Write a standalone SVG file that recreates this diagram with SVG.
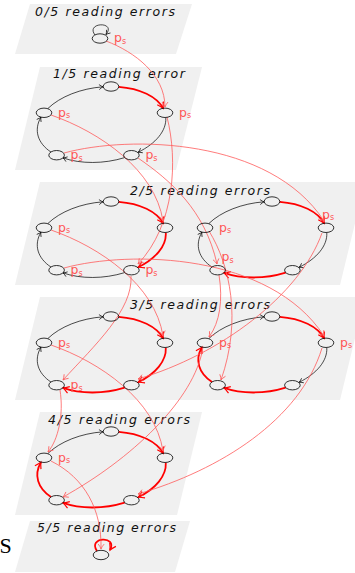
<svg xmlns="http://www.w3.org/2000/svg" width="355" height="573" viewBox="0 0 355 573">
<style>
.plane{fill:#f0f0f0;stroke:none}
.title{font-family:"DejaVu Sans",sans-serif;font-style:italic;font-size:12.5px;fill:#111}
.nd{fill:none;stroke:#000;stroke-width:0.8}
.ps{font-family:"DejaVu Sans",sans-serif;font-size:12.5px;fill:#ff5555}
.e{fill:none;stroke:#000;stroke-width:0.7;marker-end:url(#ab)}
.er{fill:none;stroke:#ff0000;stroke-width:1.8;marker-end:url(#ar)}
.t{fill:none;stroke:#ff5a5a;stroke-width:0.8;marker-end:url(#at)}
</style>
<defs>
<marker id="ab" viewBox="-6 -4 8 8" markerWidth="8" markerHeight="8" refX="0" refY="0" orient="auto" markerUnits="userSpaceOnUse"><path d="M-4,-2.5 Q-1.5,-0.5 0,0 Q-1.5,0.5 -4,2.5" fill="none" stroke="#000" stroke-width="0.7"/></marker>
<marker id="ar" viewBox="-8 -5 10 10" markerWidth="10" markerHeight="10" refX="0" refY="0" orient="auto" markerUnits="userSpaceOnUse"><path d="M-6,-3.5 Q-2,-0.8 0,0 Q-2,0.8 -6,3.5" fill="none" stroke="#ff0000" stroke-width="1.2"/></marker>
<marker id="at" viewBox="-7 -4 9 8" markerWidth="9" markerHeight="8" refX="0" refY="0" orient="auto" markerUnits="userSpaceOnUse"><path d="M-5,-3 Q-2,-0.6 0,0 Q-2,0.6 -5,3" fill="none" stroke="#ff5a5a" stroke-width="0.8"/></marker>
<g id="base-edges">
<path id="eA" d="M48,107.9 C60.2,96.1 81,87.9 103.1,86.3"/>
<path id="eB" d="M118.7,86.3 C140,87.9 156.8,96.1 163.2,107.9"/>
<path id="eC" d="M165.8,117.4 C166.5,130.1 156,143 138.1,151.8"/>
<path id="eD" d="M124.7,157.1 C104,163.5 80.7,163.6 63,157.4"/>
<path id="eE" d="M51,151.6 C37.5,142.6 33.6,129.5 40.9,116.7"/>
</g>
</defs>

<g id="planes">
<polygon class="plane" points="30,4 192,4 176,54 15,54"/>
<polygon class="plane" points="40,67 202,67 176,170 15,170"/>
<polygon class="plane" points="40,182 365,182 340,285 15,285"/>
<polygon class="plane" points="40,297 365,297 340,400 15,400"/>
<polygon class="plane" points="40,412 202,412 177,515 15,515"/>
<polygon class="plane" points="30,521 190,521 175,572 15,572"/>
</g>

<g id="titles">
<text class="title" x="35" y="16" textLength="140" lengthAdjust="spacing">0/5 reading errors</text>
<text class="title" x="53" y="78" textLength="132" lengthAdjust="spacing">1/5 reading error</text>
<text class="title" x="130" y="195" textLength="140" lengthAdjust="spacing">2/5 reading errors</text>
<text class="title" x="130" y="309" textLength="140" lengthAdjust="spacing">3/5 reading errors</text>
<text class="title" x="48" y="424" textLength="142" lengthAdjust="spacing">4/5 reading errors</text>
<text class="title" x="37" y="532" textLength="139" lengthAdjust="spacing">5/5 reading errors</text>
</g>

<text x="-0.5" y="553" font-family="Liberation Serif, serif" font-size="22" fill="#000">S</text>

<g id="connectors">
<!-- self loops -->
<path class="e" d="M95,35 C85,22 117,21 106,34.5"/>
<path class="er" d="M97,551 C87,537 118,535 110,550"/>
<!-- plane 1 -->
<g transform="translate(0,0.5)">
<use href="#eA" class="e"/><use href="#eB" class="er"/><use href="#eC" class="e"/><use href="#eD" class="e"/><use href="#eE" class="e"/>
</g>
<!-- plane 2 left -->
<g transform="translate(0,115.5)">
<use href="#eA" class="e"/><use href="#eB" class="er"/><use href="#eC" class="er"/><use href="#eD" class="e"/><use href="#eE" class="e"/>
</g>
<!-- plane 2 right -->
<g transform="translate(161,115.5)">
<use href="#eA" class="e"/><use href="#eB" class="er"/><use href="#eC" class="e"/><use href="#eD" class="er"/><use href="#eE" class="e"/>
</g>
<!-- plane 3 left -->
<g transform="translate(0,230.5)">
<use href="#eA" class="e"/><use href="#eB" class="er"/><use href="#eC" class="er"/><use href="#eD" class="er"/><use href="#eE" class="e"/>
</g>
<!-- plane 3 right -->
<g transform="translate(161,230.5)">
<use href="#eA" class="e"/><use href="#eB" class="er"/><use href="#eC" class="e"/><use href="#eD" class="er"/><use href="#eE" class="er"/>
</g>
<!-- plane 4 -->
<g transform="translate(0,345.5)">
<use href="#eA" class="e"/><use href="#eB" class="er"/><use href="#eC" class="er"/><use href="#eD" class="er"/><use href="#eE" class="er"/>
</g>
<!-- transitions -->
<path class="t" d="M106,41 C135,52 165,75 165,107"/>
<path class="t" d="M51,115 C100,132 155,170 163,221"/>
<path class="t" d="M167,117 C178,160 175,225 138,264"/>
<path class="t" d="M138,158 C170,180 205,210 217,264"/>
<path class="t" d="M64,153 C130,135 270,138 324,221"/>
<path class="t" d="M51,230 C100,247 155,285 163,336"/>
<path class="t" d="M131,276 C133,310 95,345 63,380"/>
<path class="t" d="M64,268 C130,250 270,253 324,336"/>
<path class="t" d="M209,231 C230,265 242,320 221,380"/>
<path class="t" d="M219,275 C223,300 220,322 209,337"/>
<path class="t" d="M322,233 C300,295 220,355 138,379"/>
<path class="t" d="M51,345 C100,362 155,400 163,451"/>
<path class="t" d="M60,390 C64,415 58,440 48,452"/>
<path class="t" d="M203,347 C195,400 130,460 63,497"/>
<path class="t" d="M322,348 C300,420 220,470 138,494"/>
<path class="t" d="M51,461 C85,478 102,510 101,549"/>
</g>

<g id="nodes">
<g id="p0-n"><ellipse class="nd" cx="100" cy="38.5" rx="7.8" ry="4.7"/><text class="ps" x="114" y="42">p<tspan font-size="8" dy="1.5">s</tspan></text></g>

<g id="p1-n0" transform="translate(44,112.8)"><ellipse class="nd" rx="7.8" ry="4.7"/><text class="ps" x="14" y="4">p<tspan font-size="8" dy="1.5">s</tspan></text></g>
<g id="p1-n1" transform="translate(111,86.5)"><ellipse class="nd" rx="7.8" ry="4.7"/></g>
<g id="p1-n2" transform="translate(165,112.8)"><ellipse class="nd" rx="7.8" ry="4.7"/><text class="ps" x="14" y="4">p<tspan font-size="8" dy="1.5">s</tspan></text></g>
<g id="p1-n3" transform="translate(131.4,155.2)"><ellipse class="nd" rx="7.8" ry="4.7"/><text class="ps" x="14" y="4">p<tspan font-size="8" dy="1.5">s</tspan></text></g>
<g id="p1-n4" transform="translate(56.6,155.2)"><ellipse class="nd" rx="7.8" ry="4.7"/><text class="ps" x="14" y="4">p<tspan font-size="8" dy="1.5">s</tspan></text></g>

<g id="p2a-n0" transform="translate(44,227.8)"><ellipse class="nd" rx="7.8" ry="4.7"/><text class="ps" x="14" y="4">p<tspan font-size="8" dy="1.5">s</tspan></text></g>
<g id="p2a-n1" transform="translate(111,201.5)"><ellipse class="nd" rx="7.8" ry="4.7"/></g>
<g id="p2a-n2" transform="translate(165,227.8)"><ellipse class="nd" rx="7.8" ry="4.7"/></g>
<g id="p2a-n3" transform="translate(131.4,270.2)"><ellipse class="nd" rx="7.8" ry="4.7"/><text class="ps" x="14" y="4">p<tspan font-size="8" dy="1.5">s</tspan></text></g>
<g id="p2a-n4" transform="translate(56.6,270.2)"><ellipse class="nd" rx="7.8" ry="4.7"/><text class="ps" x="14" y="4">p<tspan font-size="8" dy="1.5">s</tspan></text></g>

<g id="p2b-n0" transform="translate(205,227.8)"><ellipse class="nd" rx="7.8" ry="4.7"/><text class="ps" x="14" y="4">p<tspan font-size="8" dy="1.5">s</tspan></text></g>
<g id="p2b-n1" transform="translate(272,201.5)"><ellipse class="nd" rx="7.8" ry="4.7"/></g>
<g id="p2b-n2" transform="translate(326,227.8)"><ellipse class="nd" rx="7.8" ry="4.7"/><text class="ps" x="-4" y="-9">p<tspan font-size="8" dy="1.5">s</tspan></text></g>
<g id="p2b-n3" transform="translate(292.4,270.2)"><ellipse class="nd" rx="7.8" ry="4.7"/></g>
<g id="p2b-n4" transform="translate(217.6,270.2)"><ellipse class="nd" rx="7.8" ry="4.7"/><text class="ps" x="4" y="-9">p<tspan font-size="8" dy="1.5">s</tspan></text></g>

<g id="p3a-n0" transform="translate(44,342.8)"><ellipse class="nd" rx="7.8" ry="4.7"/><text class="ps" x="14" y="4">p<tspan font-size="8" dy="1.5">s</tspan></text></g>
<g id="p3a-n1" transform="translate(111,316.5)"><ellipse class="nd" rx="7.8" ry="4.7"/></g>
<g id="p3a-n2" transform="translate(165,342.8)"><ellipse class="nd" rx="7.8" ry="4.7"/></g>
<g id="p3a-n3" transform="translate(131.4,385.2)"><ellipse class="nd" rx="7.8" ry="4.7"/></g>
<g id="p3a-n4" transform="translate(56.6,385.2)"><ellipse class="nd" rx="7.8" ry="4.7"/><text class="ps" x="14" y="4">p<tspan font-size="8" dy="1.5">s</tspan></text></g>

<g id="p3b-n0" transform="translate(205,342.8)"><ellipse class="nd" rx="7.8" ry="4.7"/><text class="ps" x="14" y="4">p<tspan font-size="8" dy="1.5">s</tspan></text></g>
<g id="p3b-n1" transform="translate(272,316.5)"><ellipse class="nd" rx="7.8" ry="4.7"/></g>
<g id="p3b-n2" transform="translate(326,342.8)"><ellipse class="nd" rx="7.8" ry="4.7"/><text class="ps" x="14" y="4">p<tspan font-size="8" dy="1.5">s</tspan></text></g>
<g id="p3b-n3" transform="translate(292.4,385.2)"><ellipse class="nd" rx="7.8" ry="4.7"/></g>
<g id="p3b-n4" transform="translate(217.6,385.2)"><ellipse class="nd" rx="7.8" ry="4.7"/></g>

<g id="p4-n0" transform="translate(44,457.8)"><ellipse class="nd" rx="7.8" ry="4.7"/><text class="ps" x="14" y="4">p<tspan font-size="8" dy="1.5">s</tspan></text></g>
<g id="p4-n1" transform="translate(111,431.5)"><ellipse class="nd" rx="7.8" ry="4.7"/></g>
<g id="p4-n2" transform="translate(165,457.8)"><ellipse class="nd" rx="7.8" ry="4.7"/></g>
<g id="p4-n3" transform="translate(131.4,500.2)"><ellipse class="nd" rx="7.8" ry="4.7"/></g>
<g id="p4-n4" transform="translate(56.6,500.2)"><ellipse class="nd" rx="7.8" ry="4.7"/></g>

<g id="p5-n"><ellipse class="nd" cx="101" cy="555" rx="7.8" ry="4.7"/></g>
</g>
</svg>
